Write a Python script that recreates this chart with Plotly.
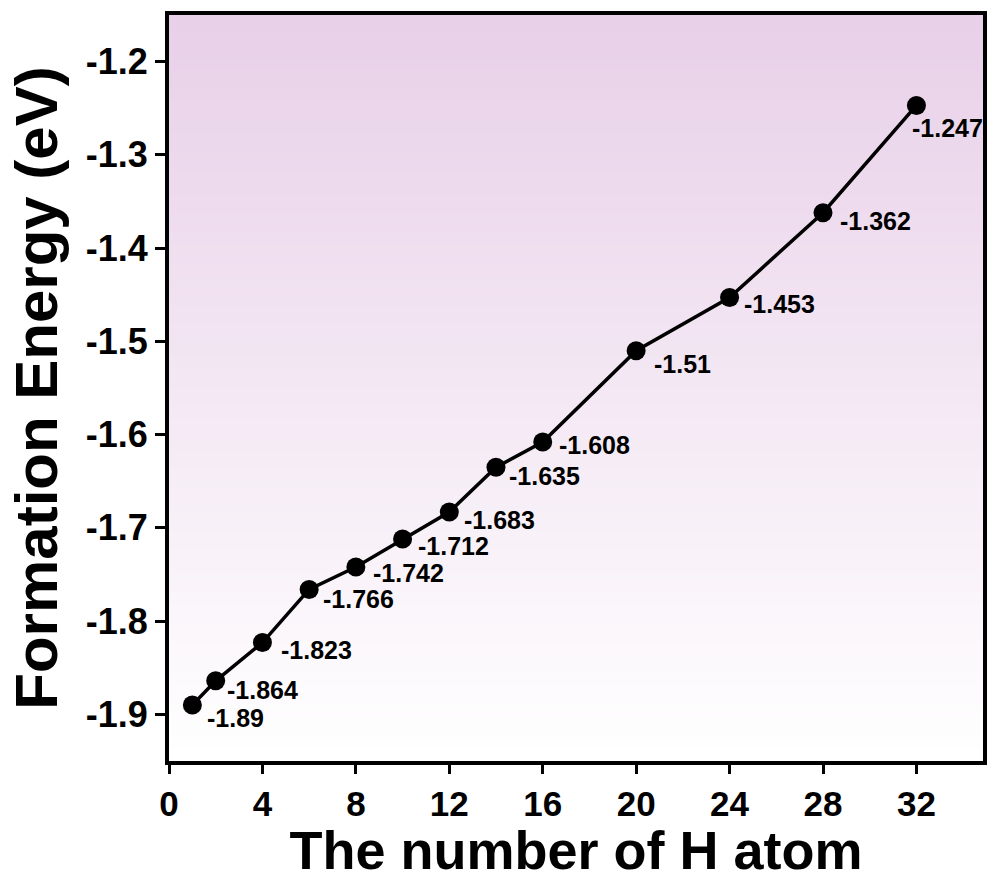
import plotly.graph_objects as go

# ---- data ----
h_atoms = [1, 2, 4, 6, 8, 10, 12, 14, 16, 20, 24, 28, 32]
formation_energy = [-1.89, -1.864, -1.823, -1.766, -1.742, -1.712, -1.683,
                    -1.635, -1.608, -1.51, -1.453, -1.362, -1.247]
x_ticks = [0, 4, 8, 12, 16, 20, 24, 28, 32]
y_ticks = [-1.9, -1.8, -1.7, -1.6, -1.5, -1.4, -1.3, -1.2]

# ---- label offsets (pixels, right / down) ----
label_dx = [13, 9, 17, 12, 15, 13, 13, 11, 14, 16, 12, 15, -6]
label_dy = [13, 9, 7, 10, 6, 7, 8, 9, 3, 13, 6, 8, 23]

FONT = "Liberation Sans, Arial, Helvetica, sans-serif"

fig = go.Figure()

fig.add_trace(go.Scatter(
    x=h_atoms, y=formation_energy, mode="lines+markers",
    line=dict(color="black", width=3.5),
    marker=dict(color="black", size=19),
    showlegend=False, hoverinfo="x+y",
))

# gradient background (decoration)
top = (232, 208, 232)
bot = (255, 255, 255)
n = 120
shapes = []
for i in range(n):
    t = i / (n - 1)
    c = tuple(round(top[k] + (bot[k] - top[k]) * t) for k in range(3))
    shapes.append(dict(
        type="rect", xref="x domain", yref="y domain",
        x0=0, x1=1, y0=1 - (i + 1) / n, y1=1 - i / n + 0.001,
        fillcolor=f"rgb{c}", line=dict(width=0), layer="below",
    ))

annotations = []
for xv, yv, dx, dy in zip(h_atoms, formation_energy, label_dx, label_dy):
    annotations.append(dict(
        x=xv, y=yv, xref="x", yref="y", text=f"{yv:g}", showarrow=False,
        xanchor="left", yanchor="middle", xshift=dx, yshift=-dy,
        font=dict(family=FONT, size=25, color="black", weight="bold"),
    ))

fig.update_layout(
    width=990, height=880,
    margin=dict(l=169, r=3, t=15, b=118),
    paper_bgcolor="white", plot_bgcolor="white",
    shapes=shapes, annotations=annotations,
    font=dict(family=FONT, color="black"),
)

fig.update_xaxes(
    range=[0, 34.85], tickvals=x_ticks, ticktext=[str(v) for v in x_ticks],
    showgrid=False, zeroline=False,
    showline=True, linecolor="black", linewidth=4, mirror=True,
    ticks="outside", ticklen=9, tickwidth=3, tickcolor="black",
    tickfont=dict(family=FONT, size=35, color="black", weight="bold"),
    title=dict(text="The number of H atom", standoff=16,
               font=dict(family=FONT, size=54, color="black", weight="bold")),
)
fig.update_yaxes(
    range=[-1.95, -1.15], tickvals=y_ticks, ticktext=[f"{v:.1f}" for v in y_ticks],
    showgrid=False, zeroline=False,
    showline=True, linecolor="black", linewidth=4, mirror=True,
    ticks="outside", ticklen=10, tickwidth=3, tickcolor="black",
    tickfont=dict(family=FONT, size=36, color="black", weight="bold"),
    title=dict(text="Formation Energy (eV)", standoff=10,
               font=dict(family=FONT, size=60, color="black", weight="bold")),
)

fig.write_html("out.html", config={"displayModeBar": False},
               post_script="document.body.style.margin='0';")
